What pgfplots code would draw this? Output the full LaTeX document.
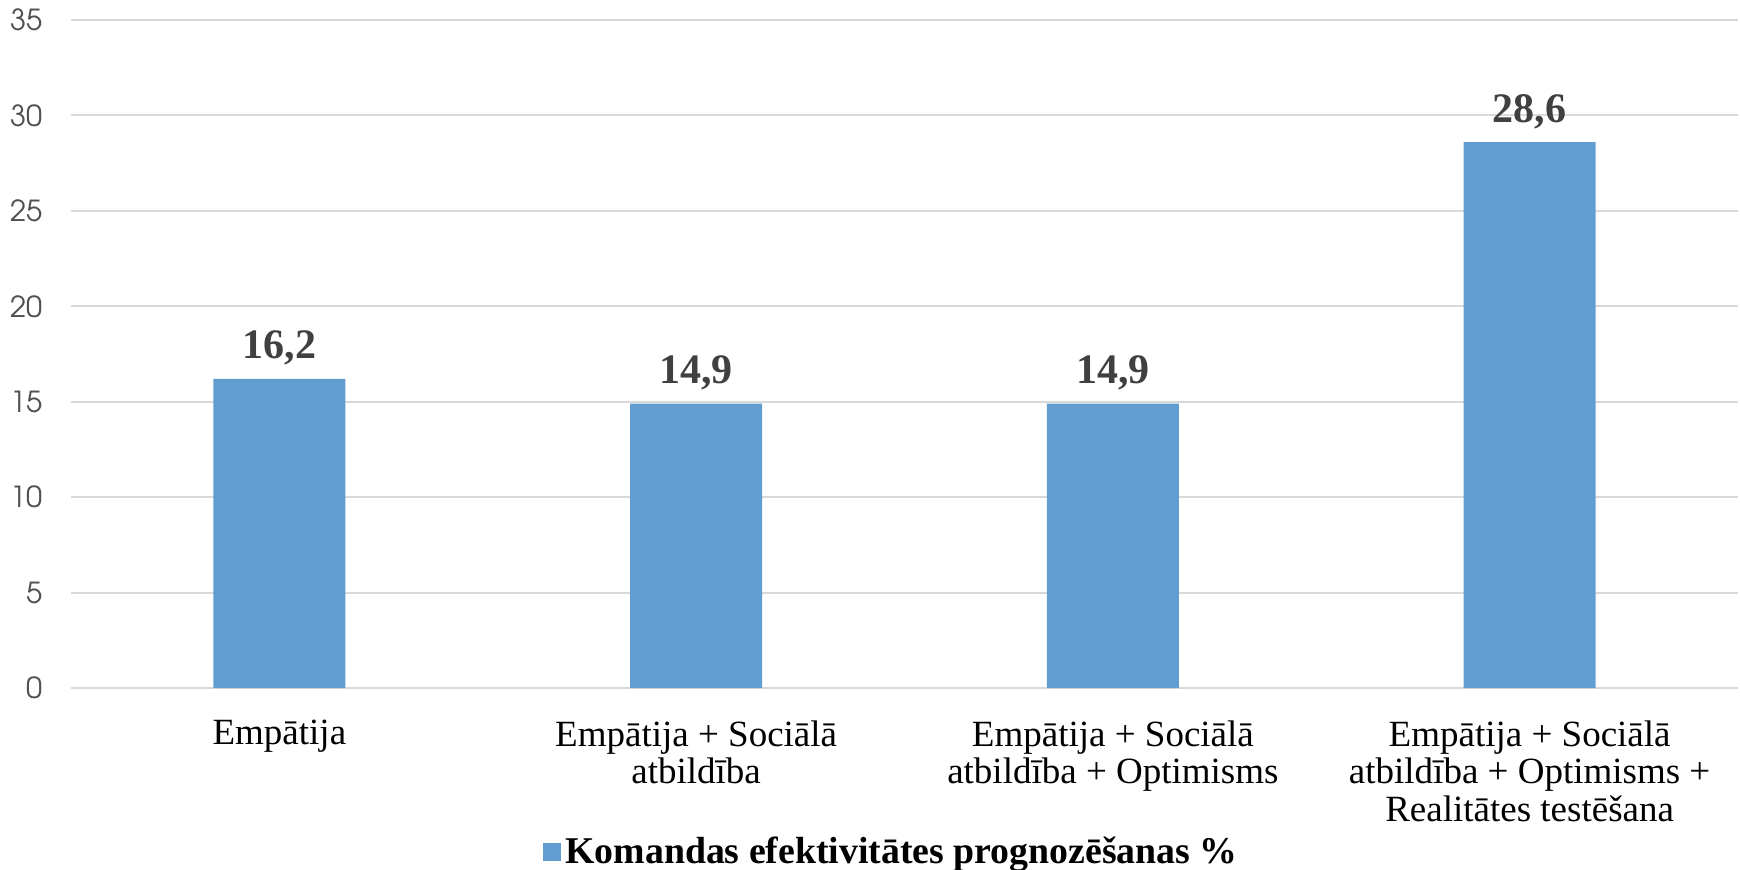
\documentclass[border=0pt]{standalone}
\usepackage{fontspec}
\setmainfont{Liberation Serif}
\newfontfamily\tickfont{texgyreadventor-regular.otf}
\usepackage{pgfplots}
\pgfplotsset{compat=1.18}
\definecolor{barblue}{RGB}{98,157,210}
\definecolor{gridgray}{RGB}{217,217,217}
\definecolor{tickgray}{RGB}{80,80,80}
\definecolor{labelgray}{RGB}{64,64,64}
\begin{document}
\begin{tikzpicture}
\useasboundingbox (-35.5pt,-90.5pt) rectangle (834.5pt,344pt);
\begin{axis}[
  at={(0,0)}, anchor=south west,
  scale only axis, width=833.5pt, height=334pt,
  xmin=-0.5, xmax=3.5, ymin=0, ymax=35,
  ytick={0,5,...,35},
  xtick={0,1,2,3},
  xticklabels={{Empātija},{Empātija + Sociālā\\atbildība},{Empātija + Sociālā\\atbildība + Optimisms},{Empātija + Sociālā\\atbildība + Optimisms +\\Realitātes testēšana}},
  axis line style={draw=none},
  tick style={draw=none},
  major tick length=0pt,
  ymajorgrids,
  major grid style={gridgray, line width=1pt},
  /pgf/number format/assume math mode=true,
  yticklabel style={font=\tickfont\fontsize{14.5}{14.5}\selectfont, text=tickgray, anchor=east, inner sep=0pt, xshift=-14pt},
  xticklabel style={font=\fontsize{18.5}{18.85}\selectfont, text=black, anchor=north, align=center, inner sep=0pt, yshift=-16pt},
  clip=false,
  legend style={at={(axis description cs:0.4928,-0.2455)}, anchor=center, draw=none, fill=none, font=\bfseries\fontsize{18.9}{18.9}\selectfont, inner sep=0pt},
  legend cell align=left,
]
\addplot[ybar, bar width=66pt, fill=barblue, draw=none,
  legend image code/.code={\fill[barblue] (0pt,-4.5pt) rectangle (9pt,4.5pt);},
  nodes near coords, point meta=explicit symbolic,
  nodes near coords style={anchor=base, yshift=10pt, inner sep=0pt, font=\bfseries\fontsize{21}{21}\selectfont, text=labelgray}]
  table[x=x, y=y, meta=label] {
x y label
0 16.2 16,2
1 14.9 14,9
2 14.9 14,9
3 28.6 28,6
};
\addlegendentry{Komandas efektivitātes prognozēšanas \%}
\end{axis}
\end{tikzpicture}
\end{document}
